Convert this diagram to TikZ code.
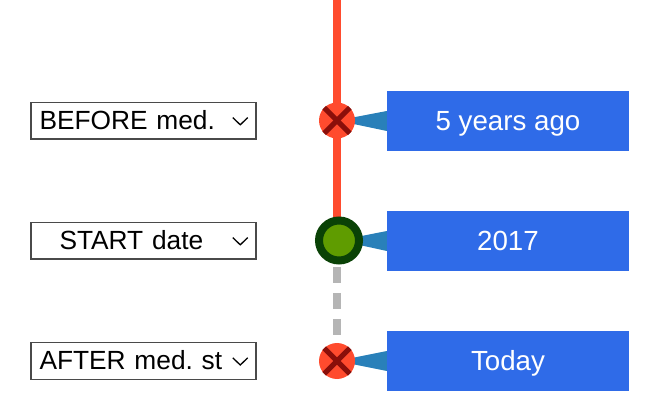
\documentclass[tikz,border=0pt]{standalone}
\usepackage{fontspec}
\setmainfont{Liberation Sans}
\usetikzlibrary{backgrounds}
\frenchspacing
\definecolor{linered}{HTML}{FF4B2E}
\definecolor{crossred}{HTML}{8A0F0A}
\definecolor{startgreen}{HTML}{5F9C00}
\definecolor{startdark}{HTML}{0A4206}
\definecolor{boxblue}{HTML}{2F6BE8}
\definecolor{tailblue}{HTML}{2980B9}
\definecolor{dashgray}{HTML}{B5B5B5}
\definecolor{selgray}{HTML}{4A4A4A}
\tikzset{
  timebox/.style={fill=boxblue,text=white,minimum width=242pt,minimum height=60pt,inner sep=0pt,text height=19pt,text depth=0pt,font=\fontsize{27.7}{27.7}\selectfont},
  selbox/.style={draw=selgray,line width=1.5pt,minimum width=225pt,minimum height=36.5pt,inner xsep=8.5pt,inner ysep=0pt,text width=208pt,text height=18.5pt,text depth=0.5pt,align=left,font=\fontsize{26.3}{26.3}\selectfont},
  nomark/.style={circle,fill=linered,minimum size=36pt,inner sep=0pt},
  startmark/.style={circle,fill=startgreen,draw=startdark,line width=8pt,minimum size=40pt,inner sep=0pt,outer sep=0pt},
  crossline/.style={draw=crossred,line width=5pt},
  tail/.style={fill=tailblue},
  chevron/.style={draw=black,line width=1.3pt}
}
\begin{document}
\begin{tikzpicture}[x=1pt,y=-1pt]
    \useasboundingbox (0,0) rectangle (653,411);

    \node [selbox] (beforesel) at (143.5,120.8) {BEFORE med.};
    \node [selbox] (startsel) at (143.5,240.8) {\hspace*{20pt}START date};
    \node [selbox] (aftersel) at (143.5,361) {AFTER med. st};

    \draw [chevron] ([xshift=-24pt,yshift=3.2pt]beforesel.east) -- ([xshift=-16.5pt,yshift=-4pt]beforesel.east) -- ([xshift=-9pt,yshift=3.2pt]beforesel.east);
    \draw [chevron] ([xshift=-24pt,yshift=3.2pt]startsel.east) -- ([xshift=-16.5pt,yshift=-4pt]startsel.east) -- ([xshift=-9pt,yshift=3.2pt]startsel.east);
    \draw [chevron] ([xshift=-24pt,yshift=3.2pt]aftersel.east) -- ([xshift=-16.5pt,yshift=-4pt]aftersel.east) -- ([xshift=-9pt,yshift=3.2pt]aftersel.east);

    \node [nomark] (before) at (337,120.5) {};
    \node [startmark] (start) at (339,240.5) {};
    \node [nomark] (after) at (337,361) {};

    \draw [crossline] (before.45) -- (before.225);
    \draw [crossline] (before.135) -- (before.315);
    \draw [crossline] (after.45) -- (after.225);
    \draw [crossline] (after.135) -- (after.315);

    \node [timebox] (beforetime) at (508,121) {5 years ago};
    \node [timebox] (starttime) at (508,241) {2017};
    \node [timebox] (aftertime) at (508,361) {Today};

    \coordinate (top) at (337,0);
    \coordinate (dashtop) at (337,267);
    \coordinate (dashend) at (337,335);

    \begin{scope}[on background layer]
      \draw [linered,line width=8pt] (top) -- (top|-start);
      \draw [dashgray,line width=8pt,dash pattern=on 16pt off 10pt] (dashtop) -- (dashend);
      \fill [tail] (before.center) -- ([yshift=10pt]beforetime.west) -- ([yshift=-10pt]beforetime.west) -- cycle;
      \fill [tail] (start.center) -- ([yshift=10pt]starttime.west) -- ([yshift=-10pt]starttime.west) -- cycle;
      \fill [tail] (after.center) -- ([yshift=10pt]aftertime.west) -- ([yshift=-10pt]aftertime.west) -- cycle;
    \end{scope}
  \end{tikzpicture}
\end{document}
